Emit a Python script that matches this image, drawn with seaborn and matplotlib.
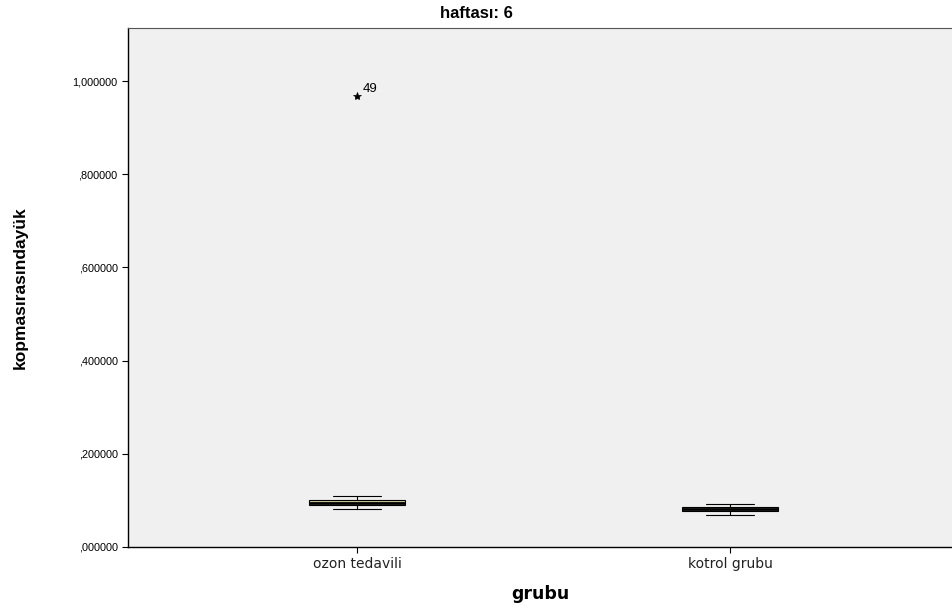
import matplotlib
matplotlib.use("Agg")
import matplotlib.pyplot as plt
import seaborn as sns
import pandas as pd
import numpy as np
from matplotlib.ticker import FuncFormatter

# Data
categories = ["ozon tedavili", "kotrol grubu"]
ozon_values = [0.0815, 0.087, 0.090, 0.092, 0.094, 0.095, 0.099, 0.101, 0.109, 0.968]
kotrol_values = [0.0687, 0.074, 0.077, 0.079, 0.081, 0.082, 0.0855, 0.088, 0.092]
outlier_label = "49"
y_ticks = [0.0, 0.2, 0.4, 0.6, 0.8, 1.0]
title = "haftası: 6"
y_label = "kopmasırasındayük"
x_label = "grubu"

df = pd.DataFrame({
    "grubu": [categories[0]] * len(ozon_values) + [categories[1]] * len(kotrol_values),
    "value": ozon_values + kotrol_values,
})

sns.set_style("white")
plt.rcParams["font.family"] = ["Liberation Sans", "DejaVu Sans"]
plt.rcParams["text.color"] = "black"

fig = plt.figure(figsize=(9.53, 6.10), dpi=100)
ax = fig.add_axes([128 / 953, 63 / 610, 1 - 128 / 953, (547 - 28) / 610])
ax.set_facecolor("#f0f0f0")

sns.boxplot(data=df, x="grubu", y="value", order=categories, ax=ax,
            width=0.255, color="#d3ce97", whis=1.5, linewidth=0.8,
            linecolor="black",
            medianprops=dict(color="black", linewidth=2.0),
            flierprops=dict(marker="*", markersize=6, markerfacecolor="black",
                            markeredgecolor="black", markeredgewidth=0.5))

ax.annotate(outlier_label, xy=(0, max(ozon_values)), xytext=(4, 3),
            textcoords="offset points", fontsize=9.5, color="black")

ax.set_xlim(-0.614, 1.598)
ax.set_ylim(0, 1.114)
ax.set_yticks(y_ticks)


def fmt(v, p):
    s = "%.6f" % v
    s = s.replace(".", ",")
    if s.startswith("0,"):
        s = s[1:]
    return s


ax.yaxis.set_major_formatter(FuncFormatter(fmt))
ax.tick_params(axis="both", direction="out", length=4, width=0.8,
               colors="black", left=True, bottom=True)
for lbl in ax.get_yticklabels():
    lbl.set_fontsize(7.8)
    lbl.set_color("black")
for lbl in ax.get_xticklabels():
    lbl.set_fontfamily("DejaVu Sans")
    lbl.set_fontsize(10.0)
    lbl.set_color("#222222")

for s in ["left", "bottom"]:
    ax.spines[s].set_color("black")
    ax.spines[s].set_linewidth(1.0)
ax.spines["top"].set_color("#555555")
ax.spines["right"].set_visible(False)

fig.text(476 / 953, 1 - 14 / 610, title, fontsize=12, fontweight="bold",
         ha="center", va="center", color="black")
ax.set_ylabel(y_label, fontsize=12.5, fontweight="bold", labelpad=32, color="black")
ax.set_xlabel(x_label, fontsize=12.5, fontweight="bold", labelpad=10,
              family="DejaVu Sans", color="black")

fig.savefig("out.png", dpi=100)
